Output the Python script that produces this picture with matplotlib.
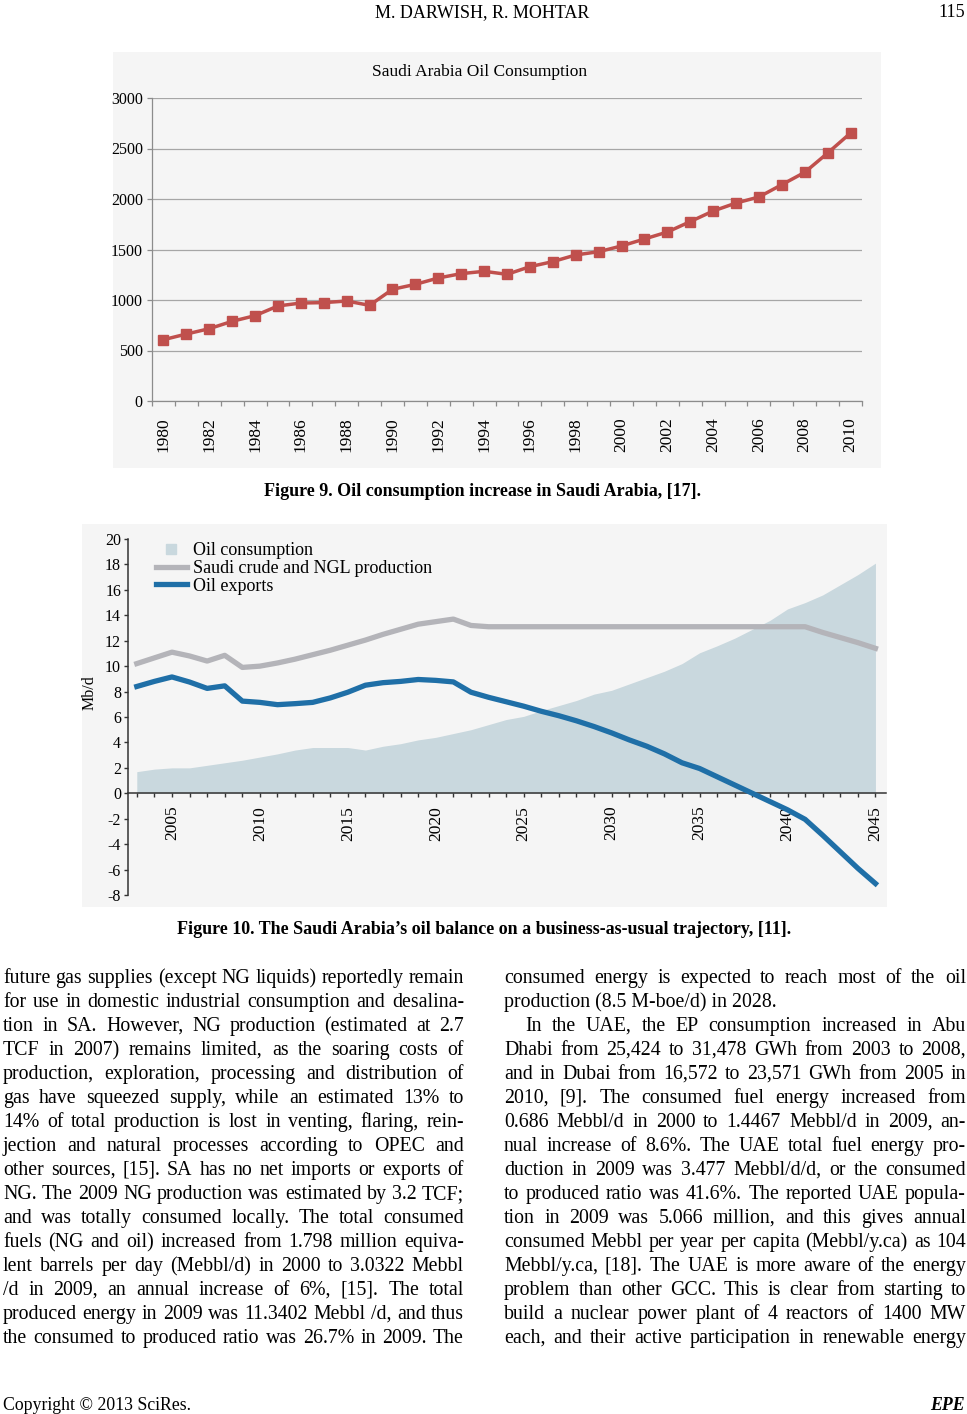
import matplotlib
matplotlib.use('Agg')
import matplotlib.pyplot as plt
from matplotlib.patches import Rectangle
from matplotlib.lines import Line2D

W, H = 967, 1414
SERIF = 'Liberation Serif'
plt.rcParams['font.family'] = [SERIF, 'DejaVu Serif']

# Figure 9: Saudi Arabia oil consumption
cons_years = list(range(1980, 2011))
cons_values = [607, 663, 716, 789, 845, 941, 970, 974, 990, 947,
               1106, 1155, 1218, 1261, 1284, 1254, 1330, 1380, 1446, 1478,
               1535, 1604, 1673, 1776, 1881, 1960, 2020, 2142, 2264, 2455,
               2653]
cons_yticks = [0, 500, 1000, 1500, 2000, 2500, 3000]

# Figure 10: oil balance, Mb/d
bal_years = list(range(2003, 2046))
oil_consumption = [1.7, 1.9, 2.0, 2.0, 2.2, 2.4, 2.6, 2.85, 3.1, 3.4,
                   3.6, 3.6, 3.6, 3.4, 3.7, 3.9, 4.2, 4.4, 4.7, 5.0,
                   5.4, 5.8, 6.05, 6.5, 6.9, 7.3, 7.8, 8.1, 8.6, 9.1,
                   9.6, 10.2, 11.05, 11.6, 12.2, 12.9, 13.6, 14.5, 15.0, 15.6,
                   16.4, 17.2, 18.1]
production = [10.2, 10.65, 11.1, 10.8, 10.4, 10.85, 9.9, 10.0, 10.25, 10.55,
              10.9, 11.25, 11.65, 12.05, 12.5, 12.9, 13.3, 13.5, 13.7, 13.2,
              13.1, 13.1, 13.1, 13.1, 13.1, 13.1, 13.1, 13.1, 13.1, 13.1,
              13.1, 13.1, 13.1, 13.1, 13.1, 13.1, 13.1, 13.1, 13.1, 12.65,
              12.25, 11.85, 11.4]
exports = [8.4, 8.8, 9.15, 8.75, 8.25, 8.45, 7.25, 7.15, 6.97, 7.05,
           7.15, 7.5, 7.95, 8.5, 8.7, 8.8, 8.95, 8.88, 8.76, 7.95,
           7.55, 7.2, 6.85, 6.45, 6.1, 5.7, 5.25, 4.75, 4.2, 3.7,
           3.1, 2.4, 1.95, 1.3, 0.65, 0.0, -0.65, -1.3, -2.05, -3.3,
           -4.6, -5.9, -7.1]
bal_xticks = [2005, 2010, 2015, 2020, 2025, 2030, 2035, 2040, 2045]
bal_yticks = [-8, -6, -4, -2, 0, 2, 4, 6, 8, 10, 12, 14, 16, 18, 20]

left_lines = [
    "future gas supplies (except NG liquids) reportedly remain",
    "for use in domestic industrial consumption and desalina-",
    "tion in SA. However, NG production (estimated at 2.7",
    "TCF in 2007) remains limited, as the soaring costs of",
    "production, exploration, processing and distribution of",
    "gas have squeezed supply, while an estimated 13% to",
    "14% of total production is lost in venting, flaring, rein-",
    "jection and natural processes according to OPEC and",
    "other sources, [15]. SA has no net imports or exports of",
    "NG. The 2009 NG production was estimated by 3.2 TCF;",
    "and was totally consumed locally. The total consumed",
    "fuels (NG and oil) increased from 1.798 million equiva-",
    "lent barrels per day (Mebbl/d) in 2000 to 3.0322 Mebbl",
    "/d in 2009, an annual increase of 6%, [15]. The total",
    "produced energy in 2009 was 11.3402 Mebbl /d, and thus",
    "the consumed to produced ratio was 26.7% in 2009. The",
]
right_lines = [
    "consumed energy is expected to reach most of the oil",
    "production (8.5 M-boe/d) in 2028.",
    "In the UAE, the EP consumption increased in Abu",
    "Dhabi from 25,424 to 31,478 GWh from 2003 to 2008,",
    "and in Dubai from 16,572 to 23,571 GWh from 2005 in",
    "2010, [9]. The consumed fuel energy increased from",
    "0.686 Mebbl/d in 2000 to 1.4467 Mebbl/d in 2009, an-",
    "nual increase of 8.6%. The UAE total fuel energy pro-",
    "duction in 2009 was 3.477 Mebbl/d/d, or the consumed",
    "to produced ratio was 41.6%. The reported UAE popula-",
    "tion in 2009 was 5.066 million, and this gives annual",
    "consumed Mebbl per year per capita (Mebbl/y.ca) as 104",
    "Mebbl/y.ca, [18]. The UAE is more aware of the energy",
    "problem than other GCC. This is clear from starting to",
    "build a nuclear power plant of 4 reactors of 1400 MW",
    "each, and their active participation in renewable energy",
]


def fx(x):
    return x / W


def fy(y):
    return 1 - y / H


def rect(l, t, r, b):
    return [l / W, 1 - b / H, (r - l) / W, (b - t) / H]


fig = plt.figure(figsize=(W / 100, H / 100), dpi=100)
renderer = fig.canvas.get_renderer()

# light grey backgrounds behind the two pasted charts
for l, t, r, b in [(113, 52, 881, 468), (82, 524, 887, 907)]:
    fig.add_artist(Rectangle((fx(l), fy(b)), (r - l) / W, (b - t) / H,
                             transform=fig.transFigure, color='#f5f5f5',
                             zorder=0, lw=0))

# header / footer
fig.text(fx(482), fy(17), 'M. DARWISH, R. MOHTAR', ha='center', va='baseline', fontsize=13)
fig.text(fx(965), fy(17), '115', ha='right', va='baseline', fontsize=13)
fig.text(fx(3), fy(1410), 'Copyright \u00a9 2013 SciRes.', ha='left', va='baseline', fontsize=12.8)
fig.text(fx(965), fy(1410), 'EPE', ha='right', va='baseline', fontsize=12.8,
         fontweight='bold', fontstyle='italic')

# ---- Figure 9
ax1 = fig.add_axes(rect(152, 98, 862, 401))
ax1.set_facecolor('none')
ax1.plot(cons_years, cons_values, color='#c0504d', lw=2.5, marker='s', ms=7,
         mec='#c0504d', mfc='#c0504d', zorder=3)
ax1.set_xlim(cons_years[0] - 0.5, cons_years[-1] + 0.5)
ax1.set_ylim(0, 3000)
ax1.set_yticks(cons_yticks)
ax1.set_yticklabels([str(v) for v in cons_yticks])
ax1.yaxis.grid(True, color='#a6a6a6', lw=0.9)
ax1.set_axisbelow(True)
for s in ['top', 'right']:
    ax1.spines[s].set_visible(False)
for s in ['left', 'bottom']:
    ax1.spines[s].set_color('#8c8c8c')
    ax1.spines[s].set_linewidth(0.9)
ax1.set_xticks([y - 0.5 for y in cons_years] + [cons_years[-1] + 0.5])
ax1.set_xticklabels([])
even_years = [y for y in cons_years if y % 2 == 0]
ax1.set_xticks(even_years, minor=True)
ax1.set_xticklabels([str(y) for y in even_years], minor=True)
ax1.tick_params(axis='x', which='major', length=3.6, color='#8c8c8c', width=0.9)
ax1.tick_params(axis='x', which='minor', length=0, pad=12, labelsize=12.5, rotation=90)
ax1.tick_params(axis='y', length=3.6, color='#8c8c8c', width=0.9, labelsize=11.5, pad=3)
fig.text(fx(480), fy(72), 'Saudi Arabia Oil Consumption', ha='center', va='center', fontsize=12.5)

# ---- Figure 10
ax2 = fig.add_axes(rect(128, 539, 886, 895))
ax2.set_facecolor('none')
ax2.fill_between(bal_years, 0, oil_consumption, color='#c9d8de', lw=0, zorder=1)
ax2.plot(bal_years, production, color='#b4b4b9', lw=3.8, zorder=2)
ax2.plot(bal_years, exports, color='#1f6fa7', lw=3.8, zorder=3)
ax2.set_xlim(2002.5, 2045.6)
ax2.set_ylim(-8, 20)
for s in ['top', 'right']:
    ax2.spines[s].set_visible(False)
ax2.spines['bottom'].set_position(('data', 0))
for s in ['left', 'bottom']:
    ax2.spines[s].set_color('#333333')
    ax2.spines[s].set_linewidth(1.1)
ax2.set_yticks(bal_yticks)
ax2.set_yticklabels([str(v) for v in bal_yticks])
ax2.set_xticks(bal_xticks)
ax2.set_xticklabels([str(v) for v in bal_xticks])
ax2.set_xticks(bal_years, minor=True)
ax2.tick_params(axis='x', which='both', length=3, width=1, color='#333333')
ax2.tick_params(axis='x', which='major', pad=6, labelsize=12.5, rotation=90)
ax2.tick_params(axis='y', length=3, width=1, color='#333333', labelsize=11.5, pad=2)
fig.text(fx(90), fy(693), 'Mb/d', rotation=90, ha='center', va='center', fontsize=11.5)

handles = [Line2D([], [], marker='s', ls='none', ms=7, color='#c9d8de'),
           Line2D([], [], color='#b4b4b9', lw=3.8),
           Line2D([], [], color='#1f6fa7', lw=3.8)]
labels = ['Oil consumption', 'Saudi crude and NGL production', 'Oil exports']
fig.legend(handles, labels, loc='upper left', bbox_to_anchor=(fx(156), fy(542)),
           frameon=False, fontsize=13, labelspacing=0.05, handlelength=1.7,
           handletextpad=0.35, borderpad=0, borderaxespad=0)

# captions
fig.text(fx(483), fy(496), 'Figure 9. Oil consumption increase in Saudi Arabia, [17].',
         ha='center', va='baseline', fontsize=13, fontweight='bold')
fig.text(fx(484), fy(934), 'Figure 10. The Saudi Arabia\u2019s oil balance on a business-as-usual trajectory, [11].',
         ha='center', va='baseline', fontsize=13, fontweight='bold')


# body text, justified
def draw_column(lines, x0, x1, last_lines, indents, y0=983, step=24, size=14.3):
    for i, line in enumerate(lines):
        yb = fy(y0 + i * step)
        start = x0 + indents.get(i, 0)
        if i in last_lines:
            fig.text(fx(start), yb, line, ha='left', va='baseline', fontsize=size)
            continue
        words = line.split(' ')
        texts = [fig.text(0, yb, w, ha='left', va='baseline', fontsize=size) for w in words]
        widths = [t.get_window_extent(renderer).width for t in texts]
        gap = (x1 - start - sum(widths)) / max(len(words) - 1, 1)
        x = start
        for t, w in zip(texts, widths):
            t.set_x(fx(x))
            x += w + gap


draw_column(left_lines, 3, 464, last_lines=set(), indents={})
draw_column(right_lines, 504, 966, last_lines={1}, indents={2: 21})

fig.savefig('out.png', dpi=100)
